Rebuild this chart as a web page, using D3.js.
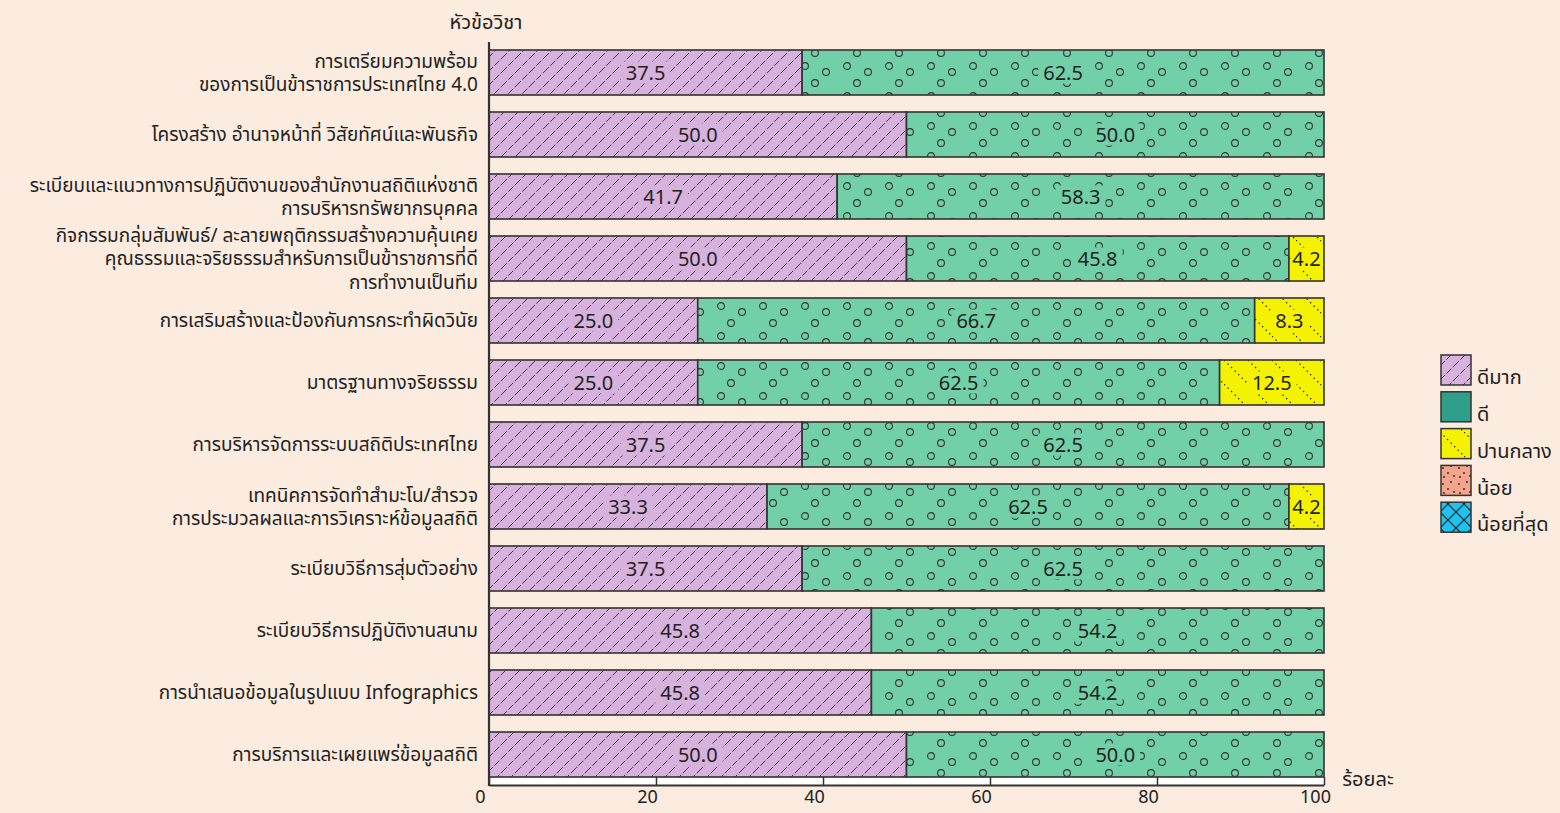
<!DOCTYPE html>
<html>
<head>
<meta charset="utf-8">
<script src="https://cdnjs.cloudflare.com/ajax/libs/d3/7.8.5/d3.min.js"></script>
<style>
  body { margin: 0; background: #fcecdf; }
  svg { display: block; }
  text { font-family: "Noto Sans Thai", "Noto Sans", "Loma", "Garuda", sans-serif; fill: #222; }
</style>
</head>
<body>
<div id="chart"></div>
<script>
// ----- data ----- //
const categories = [
  "การเตรียมความพร้อม|ของการเป็นข้าราชการประเทศไทย 4.0",
  "โครงสร้าง อำนาจหน้าที่ วิสัยทัศน์และพันธกิจ",
  "ระเบียบและแนวทางการปฏิบัติงานของสำนักงานสถิติแห่งชาติ|การบริหารทรัพยากรบุคคล",
  "กิจกรรมกลุ่มสัมพันธ์/ ละลายพฤติกรรมสร้างความคุ้นเคย|คุณธรรมและจริยธรรมสำหรับการเป็นข้าราชการที่ดี|การทำงานเป็นทีม",
  "การเสริมสร้างและป้องกันการกระทำผิดวินัย",
  "มาตรฐานทางจริยธรรม",
  "การบริหารจัดการระบบสถิติประเทศไทย",
  "เทคนิคการจัดทำสำมะโน/สำรวจ|การประมวลผลและการวิเคราะห์ข้อมูลสถิติ",
  "ระเบียบวิธีการสุ่มตัวอย่าง",
  "ระเบียบวิธีการปฏิบัติงานสนาม",
  "การนำเสนอข้อมูลในรูปแบบ Infographics",
  "การบริการและเผยแพร่ข้อมูลสถิติ"
];
const veryGood = [37.5, 50.0, 41.7, 50.0, 25.0, 25.0, 37.5, 33.3, 37.5, 45.8, 45.8, 50.0];
const good     = [62.5, 50.0, 58.3, 45.8, 66.7, 62.5, 62.5, 62.5, 62.5, 54.2, 54.2, 50.0];
const medium   = [0, 0, 0, 4.2, 8.3, 12.5, 0, 4.2, 0, 0, 0, 0];
const low      = [0, 0, 0, 0, 0, 0, 0, 0, 0, 0, 0, 0];
const lowest   = [0, 0, 0, 0, 0, 0, 0, 0, 0, 0, 0, 0];
const seriesNames = ["ดีมาก", "ดี", "ปานกลาง", "น้อย", "น้อยที่สุด"];
const xTicks = [0, 20, 40, 60, 80, 100];

const W = 1560, H = 813;
const svg = d3.select('#chart').append('svg').attr('width', W).attr('height', H);

// ----- patterns ----- //
const baseColors = ['#d7b2dd', '#72d0a8', '#f5f200', '#f5a48c', '#1ec2f0'];
const defs = svg.append('defs');

let p = defs.append('pattern').attr('id', 'pHatch').attr('patternUnits', 'userSpaceOnUse')
  .attr('width', 14).attr('height', 14);
p.append('rect').attr('width', 14).attr('height', 14).attr('fill', baseColors[0]);
p.append('path').attr('d', 'M-2,16 L16,-2 M-9,9 L9,-9 M5,23 L23,5')
  .attr('stroke', '#3a3a3a').attr('stroke-width', 1).attr('stroke-dasharray', '7,2');

// sparse staggered circles
p = defs.append('pattern').attr('id', 'pCircle').attr('patternUnits', 'userSpaceOnUse')
  .attr('width', 42).attr('height', 30);
p.append('rect').attr('width', 42).attr('height', 30).attr('fill', baseColors[1]);
[[7, 6], [28, 12], [17, 23]].forEach(c => {
  p.append('circle').attr('cx', c[0]).attr('cy', c[1]).attr('r', 3.4)
    .attr('fill', 'none').attr('stroke', '#333').attr('stroke-width', 1.1);
});

p = defs.append('pattern').attr('id', 'pDot').attr('patternUnits', 'userSpaceOnUse')
  .attr('width', 24).attr('height', 24);
p.append('rect').attr('width', 24).attr('height', 24).attr('fill', baseColors[2]);
p.append('path').attr('d', 'M0,0 L24,24 M-12,12 L12,36 M12,-12 L36,12')
  .attr('stroke', '#333').attr('stroke-width', 1.3).attr('stroke-dasharray', '1.5,3.5');

p = defs.append('pattern').attr('id', 'pSpeck').attr('patternUnits', 'userSpaceOnUse')
  .attr('width', 16).attr('height', 16);
p.append('rect').attr('width', 16).attr('height', 16).attr('fill', baseColors[3]);
[[3, 4], [11, 2], [8, 9], [14, 12], [4, 13]].forEach(c => {
  p.append('circle').attr('cx', c[0]).attr('cy', c[1]).attr('r', 0.9).attr('fill', '#222');
});

p = defs.append('pattern').attr('id', 'pCross').attr('patternUnits', 'userSpaceOnUse')
  .attr('width', 16).attr('height', 16);
p.append('rect').attr('width', 16).attr('height', 16).attr('fill', baseColors[4]);
p.append('path').attr('d', 'M0,0 L16,16 M16,0 L0,16').attr('stroke', '#222').attr('stroke-width', 1.2);

const fills = ['url(#pHatch)', 'url(#pCircle)', 'url(#pDot)', 'url(#pSpeck)', 'url(#pCross)'];
const legendFills = ['url(#pHatch)', '#2f9f8b', 'url(#pDot)', 'url(#pSpeck)', 'url(#pCross)'];

// ----- scales ----- //
const x = d3.scaleLinear().domain([0, 100]).range([489, 1324]);
const y = d3.scaleBand().domain(d3.range(categories.length))
  .range([41.5, 785.5]).paddingInner(0.274).paddingOuter(0.137);

// stacked data
const rows = categories.map((c, i) => ({
  i: i, s0: veryGood[i], s1: good[i], s2: medium[i], s3: low[i], s4: lowest[i]
}));
const stack = d3.stack().keys(['s0', 's1', 's2', 's3', 's4'])(rows);

// axis band under the bars
svg.append('rect').attr('x', x(0)).attr('y', y(11) + y.bandwidth())
  .attr('width', x(100) - x(0)).attr('height', 785 - y(11) - y.bandwidth())
  .attr('fill', '#fff');

// bars
stack.forEach((layer, k) => {
  const segs = layer.filter(d => d[1] - d[0] > 0);
  svg.append('g').selectAll('rect')
    .data(segs)
    .enter()
    .append('rect')
    .attr('x', d => x(d[0]))
    .attr('y', d => y(d.data.i))
    .attr('width', d => x(d[1]) - x(d[0]))
    .attr('height', y.bandwidth())
    .attr('fill', fills[k])
    .attr('stroke', '#333')
    .attr('stroke-width', 1.6);

  const gl = svg.append('g');
  segs.forEach(d => {
    const cx = (x(d[0]) + x(d[1])) / 2;
    const cy = y(d.data.i) + y.bandwidth() / 2;
    const bg = gl.append('rect');
    const t = gl.append('text')
      .attr('x', cx).attr('y', cy).attr('dy', '0.36em')
      .attr('text-anchor', 'middle')
      .style('font-size', '20px')
      .text((d[1] - d[0]).toFixed(1));
    const tw = t.node().getComputedTextLength();
    const segW = x(d[1]) - x(d[0]) - 3;
    const bw = Math.min(tw + 10, segW);
    bg.attr('x', cx - bw / 2).attr('y', cy - 11).attr('width', bw).attr('height', 22)
      .attr('fill', baseColors[k]);
  });
});

// x axis
const axeX = d3.axisBottom(x).tickValues(xTicks).tickSizeInner(-8).tickSizeOuter(0).tickPadding(5);
const gx = svg.append('g').attr('transform', 'translate(0,785)').call(axeX);
gx.select('.domain').attr('stroke', '#333').attr('stroke-width', 2);
gx.selectAll('line').attr('stroke', '#333').attr('stroke-width', 1.5);
gx.selectAll('text').style('font-size', '18px').attr('dx', '-9')
  .style('font-family', '"Noto Sans", sans-serif').attr('fill', '#222');

// y axis line
svg.append('line').attr('x1', 489).attr('x2', 489).attr('y1', 42).attr('y2', 786)
  .attr('stroke', '#333').attr('stroke-width', 2.2);

// category labels
categories.forEach((c, i) => {
  const lines = c.split('|');
  const cy = y(i) + y.bandwidth() / 2;
  const t = svg.append('text').attr('text-anchor', 'end').style('font-size', '19px');
  lines.forEach((l, j) => {
    t.append('tspan').attr('x', 478)
      .attr('y', cy + (j - (lines.length - 1) / 2) * 23.5)
      .attr('dy', '0.36em')
      .text(l);
  });
});

svg.append('text').attr('x', 486).attr('y', 22).attr('dy', '0.36em')
  .attr('text-anchor', 'middle').style('font-size', '20px').text('หัวข้อวิชา');
svg.append('text').attr('x', 1368).attr('y', 779).attr('dy', '0.36em')
  .attr('text-anchor', 'middle').style('font-size', '20px').text('ร้อยละ');

// legend
const lg = svg.append('g');
seriesNames.forEach((n, k) => {
  const ly = 355 + k * 36.8;
  lg.append('rect').attr('x', 1441).attr('y', ly).attr('width', 30).attr('height', 30)
    .attr('fill', legendFills[k]).attr('stroke', '#333').attr('stroke-width', 1.5);
  lg.append('text').attr('x', 1477).attr('y', ly + 22).attr('dy', '0.36em')
    .style('font-size', '20px').text(n);
});
</script>
</body>
</html>
